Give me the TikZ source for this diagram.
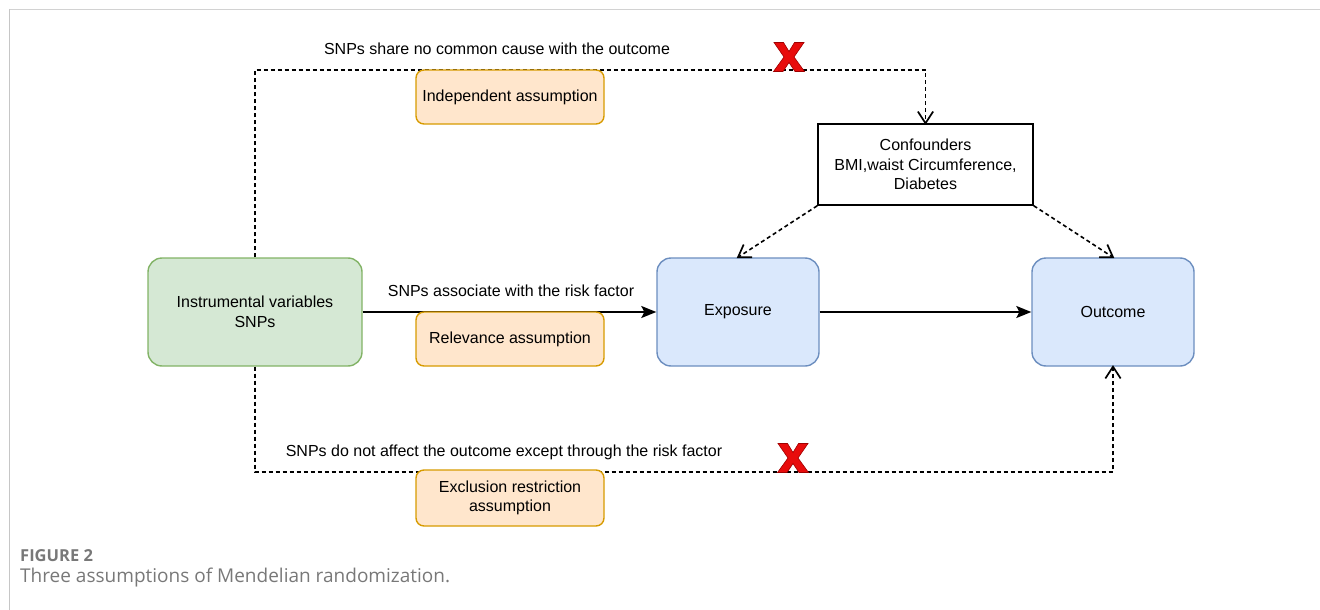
\documentclass[tikz,border=0pt]{standalone}
\usepackage{fontspec}
\setmainfont{Liberation Sans}
\newfontfamily\capfont{Open Sans}
\usetikzlibrary{arrows.meta,calc}
\definecolor{ivfill}{HTML}{D5E8D4}
\definecolor{ivline}{HTML}{82B366}
\definecolor{blfill}{HTML}{DAE8FC}
\definecolor{blline}{HTML}{6C8EBF}
\definecolor{asfill}{HTML}{FFE6CC}
\definecolor{asline}{HTML}{D79B00}
\definecolor{xred}{RGB}{232,12,12}
\definecolor{xdark}{RGB}{160,0,0}
\definecolor{capgray}{RGB}{120,120,120}
\newcommand{\redcross}[1]{%
	\filldraw[fill=xred,draw=xdark,line width=0.6pt,shift={#1}]
	(-15,-14.5) -- (-5.5,-14.5) -- (0,-5.5) -- (5.5,-14.5) -- (15,-14.5) -- (5,0)
	-- (15.5,14.5) -- (6,14.5) -- (0,5.5) -- (-6,14.5) -- (-15.5,14.5) -- (-5,0) -- cycle;}
% open V head: tip, point on the incoming line
\newcommand{\openv}[2]{%
	\draw[line width=1.7pt,line join=miter] ($#1!14pt!33:#2$) -- #1 -- ($#1!14pt!-33:#2$);}
\begin{document}
\begin{tikzpicture}[x=1pt,y=-1pt,
	every node/.style={font=\fontsize{16}{19.5}\selectfont},
	bigbox/.style={draw,rounded corners=14pt,line width=1.4pt,align=center,inner sep=0pt},
	asbox/.style={draw=asline,fill=asfill,rounded corners=8pt,line width=1.4pt,align=center,inner sep=0pt,minimum width=188pt},
	dashline/.style={line width=1.6pt,dash pattern=on 4pt off 3pt},
	fullhead/.style={-{Stealth[length=15pt,width=12pt,inset=3pt]}}]
	\useasboundingbox (0,0) rectangle (1320,610);
	%
	% frame
	\draw[gray!35,line width=1.8pt] (9,9.5) -- (1320,9.5);
	\draw[gray!45,line width=1pt] (9,9) -- (9,610);
	%
	% boxes
	\node[bigbox,draw=ivline,fill=ivfill,minimum width=214pt,minimum height=108pt] (iv) at (255,312) {Instrumental variables\\SNPs};
	\node[bigbox,draw=blline,fill=blfill,minimum width=162pt,minimum height=108pt] (exp) at (738,312) {Exposure};
	\node[bigbox,draw=blline,fill=blfill,minimum width=162pt,minimum height=108pt] (out) at (1113,312) {Outcome};
	\node[draw,line width=1.5pt,align=center,minimum width=215pt,minimum height=81pt,inner sep=0pt] (conf) at (925.5,164.5) {Confounders\\BMI,waist Circumference,\\Diabetes};
	%
	\coordinate (tl) at (256,70);
	\coordinate (bl) at (256,472);
	%
	% dashed paths
	\draw[dashline] (iv.north) -- (iv.north |- tl) -| (conf.north);
	\draw[dashline] (iv.south) -- (iv.south |- bl) -| (out.south);
	\draw[dashline] (conf.south west) -- (exp.north);
	\draw[dashline] (conf.south east) -- (out.north);
	\openv{(conf.north)}{(conf.north |- tl)}
	\openv{(out.south)}{(out.south |- bl)}
	\openv{(exp.north)}{(conf.south west)}
	\openv{(out.north)}{(conf.south east)}
	%
	% solid arrows
	\draw[line width=1.5pt,fullhead] (iv.east |- exp.west) -- (exp.west);
	\draw[line width=1.5pt,fullhead] (exp.east) -- (out.west);
	%
	% assumptions
	\node[asbox,minimum height=54pt] (ind) at (510,97) {Independent assumption};
	\node[asbox,minimum height=54pt] (rel) at (510,339) {Relevance assumption};
	\node[asbox,minimum height=56pt] (exc) at (510,498) {Exclusion restriction\\assumption};
	%
	% labels
	\node (lbtop) at (497,49) {SNPs share no common cause with the outcome};
	\node (lbmid) at (511,291) {SNPs associate with the risk factor};
	\node (lbbot) at (504,452) {SNPs do not affect the outcome except through the risk factor};
	%
	\redcross{(789,57)}
	\redcross{(793,458)}
	%
	% caption
	\node[anchor=west,inner sep=0pt,text=capgray,font=\capfont\fontsize{16.5}{18}\selectfont\bfseries] (fig) at (20,556) {FIGURE 2};
	\node[anchor=west,inner sep=0pt,text=capgray,font=\capfont\fontsize{19}{22}\selectfont] (cap) at (20,578) {Three assumptions of Mendelian randomization.};
\end{tikzpicture}
\end{document}
